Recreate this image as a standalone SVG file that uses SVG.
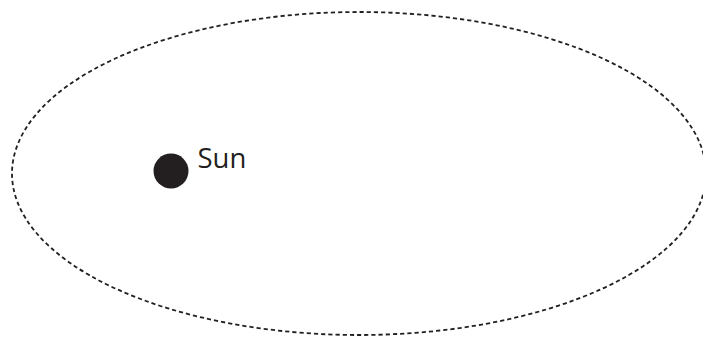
<svg xmlns="http://www.w3.org/2000/svg" width="703" height="338" viewBox="0 0 703 338">
<style>
.orbit{fill:none;stroke:#231f20;stroke-width:1.8;stroke-dasharray:4.2 3}
.lbl{font-family:"Open Sans","Noto Sans",sans-serif;font-size:27.5px;fill:#231f20}
</style>
<rect width="703" height="338" fill="#fff"/>
<g id="orbit">
<ellipse class="orbit" cx="359" cy="173.5" rx="347" ry="161.5"/>
</g>
<g id="sun">
<circle cx="171" cy="171" r="17.5" fill="#231f20"/>
<text class="lbl" x="197.5" y="168">Sun</text>
</g>
</svg>
